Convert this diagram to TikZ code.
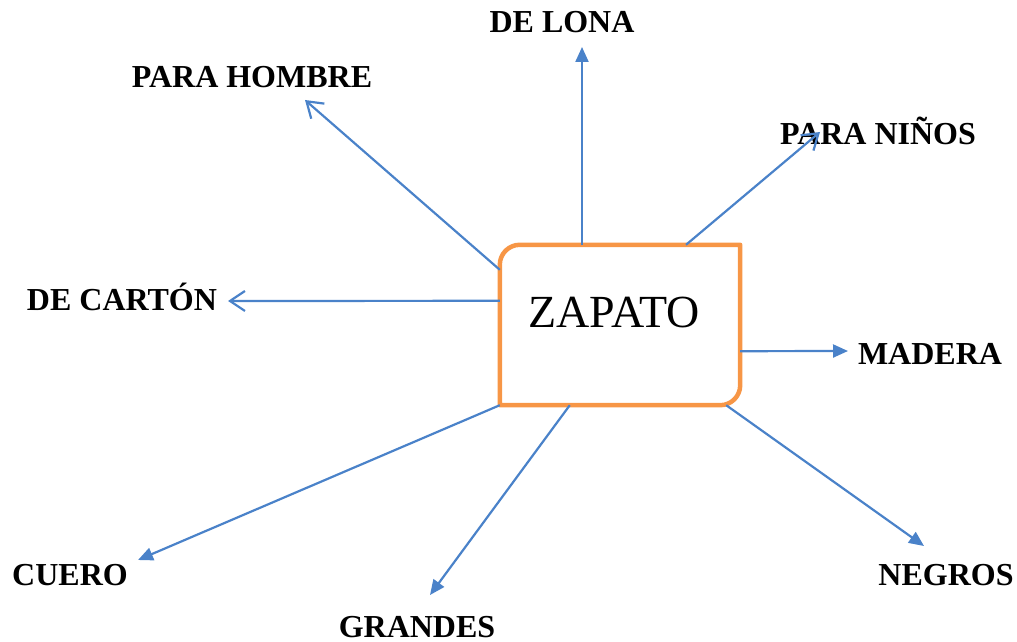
\documentclass[tikz,border=0pt]{standalone}
\usepackage{fontspec}
\setmainfont{Liberation Serif}
\usetikzlibrary{arrows.meta}

\definecolor{linienblau}{HTML}{4A82C9}
\definecolor{rahmenorange}{HTML}{F79646}

\begin{document}
\begin{tikzpicture}[
        x=1pt, y=1pt,
        kasten/.style = {rectangle, minimum width=240pt, text height=82pt, text depth=78pt, inner sep=0pt, anchor=base, font=\fontsize{46}{46}\selectfont},
        rahmen/.style = {rahmenorange, line width=4.5pt, line join=round},
        lbl/.style = {anchor=base, inner sep=0pt, font=\bfseries\fontsize{32}{32}\selectfont},
        pfeil_voll/.style = {linienblau, line width=2.2pt, -{Triangle[length=15pt,width=13pt]}},
        pfeil_offen/.style = {linienblau, line width=2.2pt, -{Straight Barb[length=15pt,width=20pt]}}
    ]
    \useasboundingbox (0,0) rectangle (1017,641);

    %Kasten
    \node at(620,314)(zapato)[kasten]{\hspace*{-12pt}ZAPATO};
    \draw[rahmen] (zapato.north east) -- ([xshift=20pt]zapato.north west)
        arc[start angle=90, end angle=180, radius=20pt] -- (zapato.south west)
        -- ([xshift=-20pt]zapato.south east)
        arc[start angle=270, end angle=360, radius=20pt] -- cycle;

    %Texte
    \node at(562,608)(lona)[lbl]{DE LONA};
    \node at(252,553)(hombre)[lbl]{PARA HOMBRE};
    \node at(878,496)(ninos)[lbl]{PARA NIÑOS};
    \node at(122,331)(carton)[lbl]{DE CARTÓN};
    \node at(930,277)(madera)[lbl]{MADERA};
    \node at(70,56)(cuero)[lbl]{CUERO};
    \node at(417,4)(grandes)[lbl]{GRANDES};
    \node at(946,56)(negros)[lbl]{NEGROS};

    %Ansatzpunkte
    \coordinate (s_lona) at ([xshift=-38pt]zapato.north);
    \coordinate (s_hombre) at ([yshift=-25pt]zapato.north west);
    \coordinate (s_ninos) at ([xshift=66pt]zapato.north);
    \coordinate (s_carton) at ([yshift=-56pt]zapato.north west);
    \coordinate (s_madera) at ([yshift=54pt]zapato.south east);
    \coordinate (s_cuero) at (zapato.south west);
    \coordinate (s_grandes) at ([xshift=70pt]zapato.south west);
    \coordinate (s_negros) at ([xshift=-14pt]zapato.south east);

    %Spitzen
    \coordinate (e_lona) at (582,594);
    \coordinate (e_hombre) at (305,541);
    \coordinate (e_ninos) at (820,509);
    \coordinate (e_carton) at (228,340);
    \coordinate (e_madera) at (848,290);
    \coordinate (e_cuero) at (138,81);
    \coordinate (e_grandes) at (430,46);
    \coordinate (e_negros) at (924,95);

    %Pfeile
    \draw[pfeil_voll]  (s_lona)    -- (e_lona);
    \draw[pfeil_offen] (s_hombre)  -- (e_hombre);
    \draw[pfeil_offen] (s_ninos)   -- (e_ninos);
    \draw[pfeil_offen] (s_carton)  -- (e_carton);
    \draw[pfeil_voll]  (s_madera)  -- (e_madera);
    \draw[pfeil_voll]  (s_cuero)   -- (e_cuero);
    \draw[pfeil_voll]  (s_grandes) -- (e_grandes);
    \draw[pfeil_voll]  (s_negros)  -- (e_negros);

\end{tikzpicture}
\end{document}
